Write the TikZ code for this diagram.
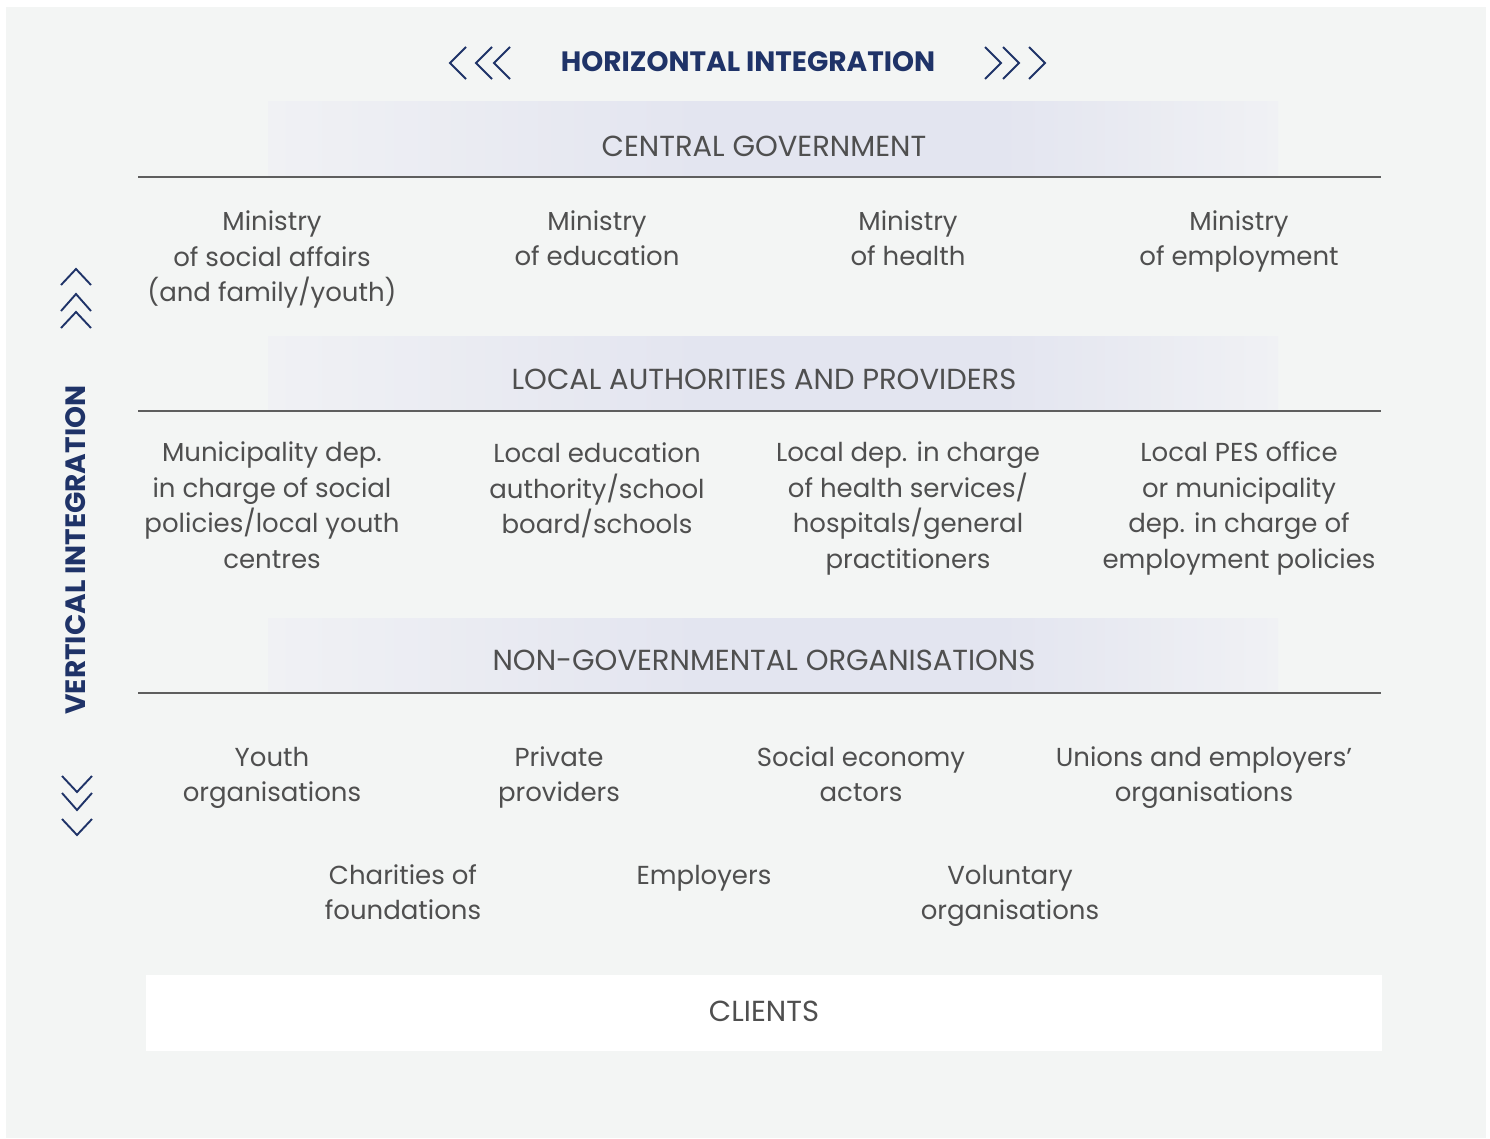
\documentclass[tikz,border=0pt]{standalone}
\usepackage{fontspec}
\setmainfont{Poppins}
\definecolor{bg}{HTML}{F3F5F4}
\definecolor{bandedge}{HTML}{F0F1F4}
\definecolor{band}{HTML}{E3E5F0}
\definecolor{navy}{HTML}{1F3368}
\definecolor{ink}{HTML}{4F4F4F}
\definecolor{rulegray}{HTML}{5E5E5E}
% equal height and depth for the first and last line of every text block
\newcommand{\edge}{\strut}
\begin{document}
\begin{tikzpicture}[x=1pt,y=-1pt,
  body/.style={align=center, text=ink, inner sep=0pt,
    font=\fontsize{26}{35.5}\selectfont},
  head/.style={text=ink, inner sep=0pt, font=\fontsize{29}{32}\selectfont},
  title/.style={text=navy, inner sep=0pt, font=\fontsize{28}{30}\selectfont\bfseries},
  chev/.style={draw=navy, line width=1.9pt, line join=miter},
  sep/.style={draw=rulegray, line width=1.6pt}]
\useasboundingbox (0,0) rectangle (1490,1138);
\fill[white] (0,0) rectangle (1490,1138);
\fill[bg] (6,7) rectangle (1486,1138);

% header bands with soft horizontal gradients
\foreach \top/\bot in {101/177, 336/411, 618/693}{
  \shade[left color=bandedge, right color=band] (268,\top) rectangle (700,\bot);
  \fill[band] (700,\top) rectangle (1000,\bot);
  \shade[left color=band, right color=bandedge] (1000,\top) rectangle (1278,\bot);
  \draw[sep] (138,\bot) -- (1381,\bot);
}

% title with chevrons
\node[title] (htitle) at (748,62) {HORIZONTAL INTEGRATION};
\draw[chev] (466,47) -- (450,63) -- (466,79);
\draw[chev] (492,47) -- (476,63) -- (492,79);
\draw[chev] (510,47) -- (494,63) -- (510,79);
\draw[chev] (985,47) -- (1001,63) -- (985,79);
\draw[chev] (1003,47) -- (1019,63) -- (1003,79);
\draw[chev] (1029,47) -- (1045,63) -- (1029,79);

\node[title, rotate=90] (vtitle) at (76,550) {VERTICAL INTEGRATION};
\draw[chev] (61,285) -- (76,269) -- (91,285);
\draw[chev] (61,311) -- (76,294) -- (91,311);
\draw[chev] (61,328) -- (76,312) -- (91,328);
\draw[chev] (62,776) -- (77,792) -- (92,776);
\draw[chev] (62,793) -- (77,810) -- (92,793);
\draw[chev] (62,819) -- (77,835) -- (92,819);

% central government
\node[head] (central) at (764,146) {CENTRAL GOVERNMENT};
\node[body] (minsoc) at (272,259) {\edge Ministry\\of social affairs\\(and family/youth)\edge};
\node[body] (minedu) at (597,241) {\edge Ministry\\of education\edge};
\node[body] (minhea) at (908,241) {\edge Ministry\\of health\edge};
\node[body] (minemp) at (1239,241) {\edge Ministry\\of employment\edge};

% local authorities
\node[head] (local) at (764,379) {LOCAL AUTHORITIES AND PROVIDERS};
\node[body] (munsoc) at (272,508) {\edge Municipality dep.\\in charge of social\\policies/local youth\\centres\edge};
\node[body] (locedu) at (597,491) {\edge Local education\\authority/school\\board/schools\edge};
\node[body] (lochea) at (908,508) {\edge Local dep. in charge\\of health services/\\hospitals/general\\practitioners\edge};
\node[body] (locemp) at (1239,508) {\edge Local PES office\\or municipality\\dep. in charge of\\employment policies\edge};

% non-governmental organisations
\node[head] (ngo) at (764,660) {NON-GOVERNMENTAL ORGANISATIONS};
\node[body] (youth) at (272,777) {\edge Youth\\organisations\edge};
\node[body] (private) at (559,777) {\edge Private\\providers\edge};
\node[body] (socecon) at (861,777) {\edge Social economy\\actors\edge};
\node[body] (unions) at (1204,777) {\edge Unions and employers'\\organisations\edge};
\node[body] (charities) at (403,895) {\edge Charities of\\foundations\edge};
\node[body] (employers) at (704,877) {\edge Employers\edge};
\node[body] (voluntary) at (1010,895) {\edge Voluntary\\organisations\edge};

% clients
\fill[white] (146,975) rectangle (1382,1051);
\node[head] (clients) at (764,1011) {CLIENTS};
\end{tikzpicture}
\end{document}
